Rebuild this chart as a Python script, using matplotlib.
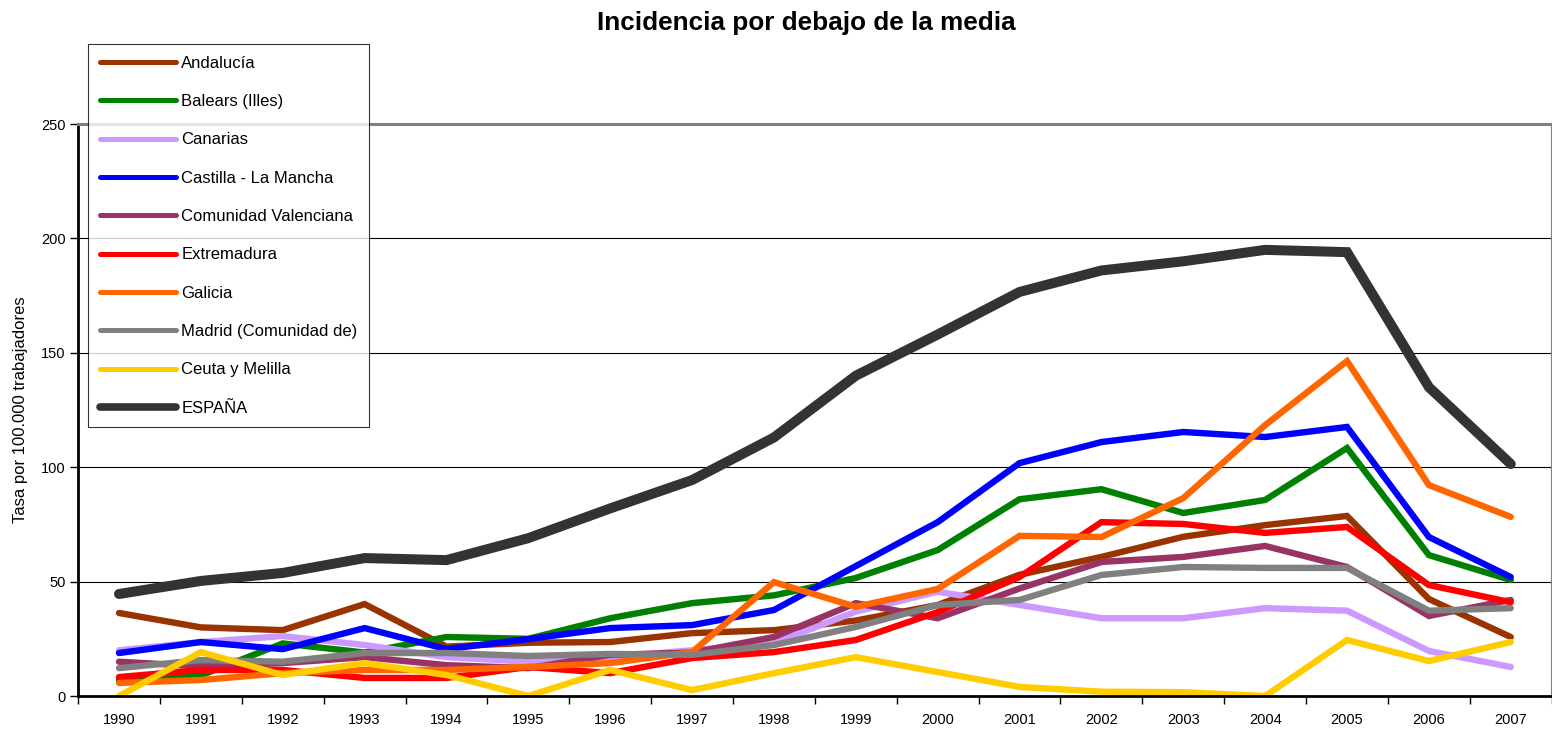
import matplotlib
matplotlib.use('Agg')
import numpy as np
from matplotlib import pyplot as plt

#----------------------------Data----------------------------------------------#
years = [str(y) for y in range(1990, 2008)]

andalucia = [36.3, 30.0, 28.8, 40.2, 21.6, 23.3, 23.6, 27.5, 28.8, 33.0, 39.8,
             53.0, 60.8, 69.6, 74.7, 78.7, 42.4, 25.8]
balears = [7.0, 9.0, 23.0, 19.0, 25.8, 25.0, 34.0, 40.6, 44.0, 51.6, 63.8,
           86.0, 90.4, 80.0, 85.7, 108.4, 61.6, 50.7]
canarias = [20.0, 23.6, 26.2, 22.3, 17.0, 15.0, 17.0, 20.0, 23.0, 36.9, 45.6,
            39.8, 34.0, 34.0, 38.4, 37.3, 19.7, 12.7]
castilla = [18.8, 23.6, 20.5, 29.7, 20.5, 24.9, 29.7, 31.0, 37.6, 56.8, 76.0,
            101.8, 111.0, 115.4, 113.2, 117.6, 69.5, 52.0]
valenciana = [15.0, 13.0, 14.4, 17.0, 13.5, 12.2, 18.0, 19.0, 25.8, 40.6, 34.0,
              47.0, 58.6, 60.8, 65.6, 56.4, 35.0, 42.0]
extremadura = [8.3, 11.4, 11.4, 7.9, 7.9, 12.7, 10.0, 16.6, 19.2, 24.5, 36.7,
               52.0, 76.0, 75.2, 71.3, 73.9, 48.5, 41.0]
galicia = [5.7, 7.0, 10.0, 11.4, 11.4, 12.7, 14.4, 19.2, 49.8, 39.0, 46.8,
           70.0, 69.5, 86.5, 118.4, 146.4, 92.2, 78.3]
madrid = [12.2, 15.7, 15.0, 18.8, 18.8, 17.5, 18.4, 18.0, 22.3, 30.2, 39.8,
          42.0, 52.9, 56.4, 56.0, 56.0, 37.3, 38.4]
ceuta = [0.0, 19.2, 9.2, 14.4, 9.2, 0.0, 11.4, 2.6, 10.0, 17.0, 10.5,
         4.0, 1.9, 1.7, 0.0, 24.5, 15.3, 23.6]
espana = [44.6, 50.3, 53.8, 60.3, 59.4, 69.0, 82.0, 94.4, 113.0, 140.0, 158.0,
          176.6, 186.0, 190.0, 195.0, 194.0, 135.0, 101.4]

series = [
    ('Andalucía', andalucia, '#993300'),
    ('Balears (Illes)', balears, '#008000'),
    ('Canarias', canarias, '#CC99FF'),
    ('Castilla - La Mancha', castilla, '#0000FF'),
    ('Comunidad Valenciana', valenciana, '#993366'),
    ('Extremadura', extremadura, '#FF0000'),
    ('Galicia', galicia, '#FF6600'),
    ('Madrid (Comunidad de)', madrid, '#808080'),
    ('Ceuta y Melilla', ceuta, '#FFCC00'),
    ('ESPAÑA', espana, '#333333'),
]

#----------------------------Plotting------------------------------------------#
plt.rcParams['font.family'] = ['Liberation Sans', 'DejaVu Sans']

fig = plt.figure(figsize=(15.52, 7.36), dpi=100)
ax = fig.add_axes([0.0503, 0.0543, 0.9495, 0.7772])

x = np.arange(len(years))
handles = []
for label, vals, color in series:
    lw = 7.2 if label == 'ESPAÑA' else 4.6
    ln, = ax.plot(x, vals, color=color, lw=lw, label=label,
                  solid_capstyle='round', solid_joinstyle='miter')
    handles.append(ln)

ax.set_xlim(-0.5, len(years) - 0.5)
ax.set_ylim(0, 250)

# category axis: ticks between categories, labels in the middle
ax.set_xticks(np.arange(-0.5, len(years), 1.0))
ax.set_xticklabels([])
ax.set_xticks(x, minor=True)
ax.set_xticklabels(years, minor=True, fontsize=10.5)
ax.tick_params(axis='x', which='minor', length=0, pad=12)
ax.tick_params(axis='x', which='major', length=6, width=1, direction='out')
ax.set_yticks([0, 50, 100, 150, 200, 250])
ax.tick_params(axis='y', length=6, width=1, direction='out', labelsize=10.5, pad=3)

for v in [50, 100, 150, 200]:
    ax.axhline(v, color='black', lw=0.8, zorder=0)

ax.spines['left'].set_linewidth(2)
ax.spines['bottom'].set_linewidth(2)
ax.spines['top'].set_color('#808080')
ax.spines['top'].set_linewidth(2.2)
ax.spines['right'].set_color('#808080')
ax.spines['right'].set_linewidth(1.5)

ax.set_ylabel('Tasa por 100.000 trabajadores', fontsize=12, labelpad=9)
fig.suptitle('Incidencia por debajo de la media', fontsize=18.8, fontweight='bold',
             x=806 / 1552, y=0.985)

leg = fig.legend(handles=handles, loc='upper left', bbox_to_anchor=(88 / 1552, 1 - 44 / 736),
                 frameon=True, fancybox=False, fontsize=12, handlelength=4.6,
                 handletextpad=0.3, labelspacing=1.4, borderpad=0.7, borderaxespad=0)
leg.get_frame().set_edgecolor('black')
leg.get_frame().set_linewidth(0.8)
for h in leg.legend_handles:
    h.set_linewidth(5.5 if h.get_label() == 'ESPAÑA' else 3.6)

fig.savefig('out.png', dpi=100)
